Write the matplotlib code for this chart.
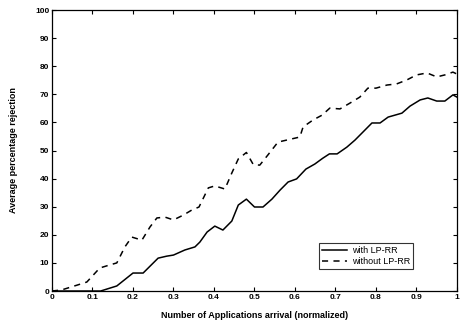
import matplotlib

matplotlib.use("Agg")
import matplotlib.pyplot as plt

# with LP-RR (solid)
with_x = [0, 0.12, 0.16, 0.2, 0.225, 0.262, 0.283, 0.3, 0.328, 0.353, 0.365, 0.383,
          0.402, 0.422, 0.444, 0.46, 0.48, 0.5, 0.521, 0.543, 0.563, 0.583, 0.604,
          0.627, 0.649, 0.668, 0.685, 0.704, 0.728, 0.748, 0.768, 0.79, 0.81, 0.83,
          0.864, 0.884, 0.909, 0.928, 0.95, 0.97, 0.99, 1.0]
with_y = [0, 0, 1.8, 6.4, 6.4, 11.7, 12.4, 12.8, 14.6, 15.7, 17.4, 21.0,
          23.1, 21.7, 24.9, 30.6, 32.7, 29.9, 29.9, 32.7, 35.9, 38.8, 39.9,
          43.4, 45.2, 47.2, 48.8, 48.8, 51.2, 53.7, 56.6, 59.8, 59.8, 61.9,
          63.3, 65.8, 68.0, 68.7, 67.6, 67.6, 69.8, 69.0]

# without LP-RR (dashed)
without_x = [0, 0.024, 0.062, 0.086, 0.118, 0.143, 0.16, 0.18, 0.197, 0.222, 0.242,
             0.259, 0.279, 0.3, 0.324, 0.345, 0.363, 0.386, 0.402, 0.427, 0.444,
             0.46, 0.48, 0.497, 0.513, 0.533, 0.558, 0.588, 0.612, 0.62, 0.645,
             0.667, 0.686, 0.711, 0.736, 0.76, 0.78, 0.8, 0.827, 0.851, 0.876,
             0.9, 0.926, 0.95, 0.97, 0.99, 1.0]
without_y = [0, 0.4, 2.1, 3.2, 8.2, 9.3, 10.0, 15.7, 19.2, 18.1, 22.8,
             26.0, 26.3, 25.3, 27.0, 28.8, 29.9, 36.7, 37.4, 36.3, 42.0,
             47.0, 49.3, 45.0, 44.8, 48.4, 53.0, 54.0, 54.8, 58.4, 60.9,
             62.6, 65.1, 64.8, 66.9, 69.0, 72.2, 72.2, 73.3, 73.7, 75.1,
             76.9, 77.6, 76.2, 76.9, 77.9, 77.2]

x_ticks = [0, 0.1, 0.2, 0.3, 0.4, 0.5, 0.6, 0.7, 0.8, 0.9, 1]
x_tick_labels = ["0", "0.1", "0.2", "0.3", "0.4", "0.5", "0.6", "0.7", "0.8", "0.9", "1"]
y_ticks = list(range(0, 101, 10))

plt.rcParams["font.family"] = ["Liberation Sans", "DejaVu Sans"]
plt.rcParams["font.weight"] = "bold"

fig = plt.figure(figsize=(4.61, 3.23), dpi=100)
ax = fig.add_axes([0.1128, 0.099, 0.8785, 0.870])

ax.plot(with_x, with_y, color="black", linewidth=1.1, label="with LP-RR")
ax.plot(without_x, without_y, color="black", linewidth=1.1, linestyle=(0, (4, 3.5)),
        label="without LP-RR")

ax.set_xlim(0, 1)
ax.set_ylim(0, 100)
ax.set_xticks(x_ticks)
ax.set_xticklabels(x_tick_labels)
ax.set_yticks(y_ticks)
ax.tick_params(direction="in", length=3, width=0.8, labelsize=6, pad=2,
               top=True, right=True)
for spine in ax.spines.values():
    spine.set_linewidth(0.9)

ax.set_xlabel("Number of Applications arrival (normalized)", fontsize=6.5, fontweight="bold", labelpad=7)
ax.set_ylabel("Average percentage rejection", fontsize=6.5, fontweight="bold", labelpad=12)

leg = ax.legend(loc="lower right", bbox_to_anchor=(0.892, 0.08), fontsize=6.5, frameon=True,
                fancybox=False, edgecolor="black", borderpad=0.3, handlelength=2.8,
                labelspacing=0.2, handletextpad=0.6, borderaxespad=0)
leg.get_frame().set_linewidth(0.8)
for t in leg.get_texts():
    t.set_fontweight("normal")

fig.savefig("out.png", dpi=100)
